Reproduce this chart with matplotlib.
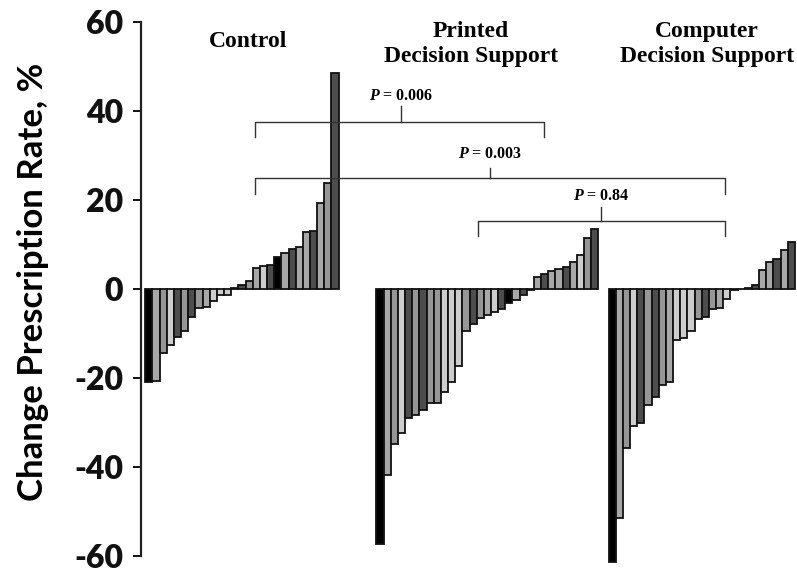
import matplotlib
matplotlib.use('Agg')
import matplotlib.pyplot as plt
import numpy as np

# ---- data ----
groups = ['Control', 'Printed\nDecision Support', 'Computer\nDecision Support']

control = [-21.0, -20.6, -14.3, -12.6, -10.8, -9.4, -6.2, -4.3, -4.1, -2.6, -1.4, -1.3,
           0.2, 0.8, 1.9, 4.8, 5.1, 5.4, 7.1, 8.0, 9.0, 9.4, 12.7, 13.0, 19.4, 23.9, 48.6]
control_shade = ['k', 'n', 'm', 'l', 'd', 'm', 'd', 'm', 'n', 'l', 'l', 'l', 'l', 'd', 'm',
                 'n', 'l', 'd', 'k', 'n', 'd', 'n', 'n', 'd', 'n', 'm', 'd']

printed = [-57.4, -41.8, -34.9, -32.4, -28.9, -28.3, -27.2, -25.7, -25.7, -23.1, -20.8,
           -17.2, -9.5, -7.8, -6.6, -5.8, -5.2, -4.6, -3.1, -2.4, -1.3, -0.3, 2.8, 3.4,
           4.0, 4.4, 5.0, 6.0, 7.7, 11.4, 13.4]
printed_shade = ['k', 'n', 'm', 'l', 'd', 'm', 'd', 'm', 'm', 'l', 'l', 'l', 'm', 'd', 'm',
                 'n', 'l', 'd', 'k', 'n', 'd', 'm', 'n', 'd', 'n', 'n', 'd', 'n', 'l', 'm', 'd']

computer = [-61.3, -51.5, -35.7, -30.8, -30.1, -26.1, -24.2, -21.5, -21.0, -11.5, -11.0,
            -9.4, -6.7, -6.2, -4.6, -4.3, -2.2, -0.2, 0.1, 0.2, 0.8, 4.3, 6.1, 6.7, 8.8, 10.6]
computer_shade = ['k', 'n', 'm', 'l', 'd', 'm', 'd', 'm', 'n', 'l', 'l', 'l', 'm', 'd', 'm',
                  'n', 'l', 'm', 'm', 'm', 'd', 'n', 'n', 'd', 'n', 'd']

comparisons = ['$P$ = 0.006', '$P$ = 0.003', '$P$ = 0.84']
yticks = [-60, -40, -20, 0, 20, 40, 60]

# ---- style ----
shade_colors = {'k': '#000000', 'd': '#4d4d4d', 'm': '#969696', 'n': '#a8a8a8', 'l': '#cdcdcd'}
group_offsets = [0.0, 32.27, 64.7]

plt.rcParams['mathtext.fontset'] = 'custom'
plt.rcParams['mathtext.it'] = 'Liberation Serif:italic:bold'
plt.rcParams['mathtext.rm'] = 'Liberation Serif:bold'

fig = plt.figure(figsize=(7.97, 5.77), dpi=100)
ax = fig.add_axes([141 / 797, 12.1 / 577, 656 / 797, 542.9 / 577])

for vals, shades, off in zip([control, printed, computer],
                             [control_shade, printed_shade, computer_shade], group_offsets):
    x = off + np.arange(len(vals))
    ax.bar(x, vals, width=1.0, align='edge',
           color=[shade_colors[s] for s in shades],
           edgecolor='#111111', linewidth=1.3, zorder=2)

ax.set_xlim(-0.6, 91.0)
ax.set_ylim(-62, 60)
ax.set_xticks([])
ax.set_yticks(yticks)
ax.set_yticklabels([str(t) for t in yticks], fontfamily='Lato', fontweight='heavy', fontsize=23)
ax.tick_params(axis='y', direction='out', length=6, width=1.4, pad=7, colors='#111111')
for s in ['top', 'right', 'bottom']:
    ax.spines[s].set_visible(False)
ax.spines['left'].set_bounds(-60, 60)
ax.spines['left'].set_linewidth(1.6)
ax.spines['left'].set_color('#222222')

fig.text(33 / 797, 1 - 282 / 577, 'Change Prescription Rate, %', rotation=90,
         ha='center', va='center', fontfamily='Lato', fontweight='bold', fontsize=25)

# group titles
title_pos = [(14.3, 55.7), (45.5, 55.1), (78.4, 55.1)]
for g, (tx, ty) in zip(groups, title_pos):
    ax.text(tx, ty, g, ha='center', va='center', fontfamily='Liberation Serif',
            fontweight='bold', fontsize=17, linespacing=1.25)

# brackets: (x_left, x_right, x_mid, y_bar, y_end, y_tick, y_text)
brackets = [(15.3, 55.7, 35.7, 37.6, 34.2, 41.2, 43.4),
            (15.3, 80.9, 48.2, 24.9, 21.3, 27.2, 30.3),
            (46.5, 80.9, 63.7, 15.3, 12.0, 18.5, 20.9)]
for lab, (xl, xr, xm, yb, ye, yt, ytext) in zip(comparisons, brackets):
    ax.plot([xl, xl, xr, xr], [ye, yb, yb, ye], color='#333333', lw=1.0, zorder=3)
    ax.plot([xm, xm], [yb, yt], color='#333333', lw=1.0, zorder=3)
    ax.text(xm, ytext, lab, ha='center', va='center', fontfamily='Liberation Serif',
            fontweight='bold', fontsize=11.5, zorder=4)

fig.savefig('out.png', dpi=100)
